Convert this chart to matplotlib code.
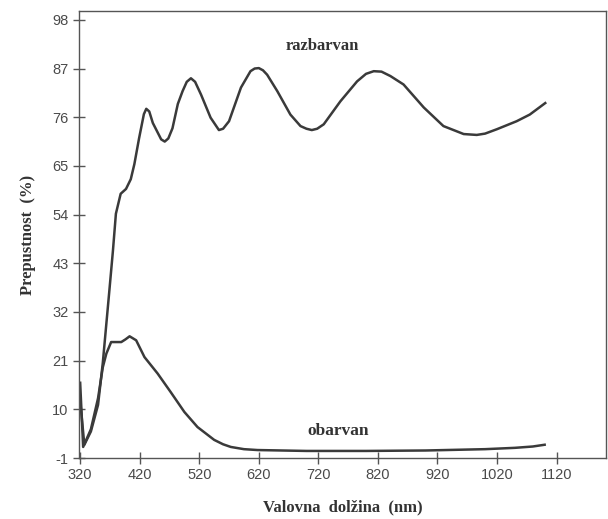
import matplotlib.pyplot as plt

plt.rcParams["axes.unicode_minus"] = False

# razbarvan (upper curve): wavelength (nm), transmittance (%)
razbarvan_nm = [320, 327, 338, 350, 358, 364, 369, 375, 380, 388, 397, 405,
                411, 419, 427, 431, 436, 442, 456, 462, 468, 475, 484, 492,
                499, 506, 513, 523, 539, 553, 560, 570, 590, 606, 613, 620,
                627, 634, 651, 673, 690, 700, 709, 718, 729, 757, 785, 800,
                813, 826, 841, 863, 897, 930, 964, 986, 1000, 1020, 1053,
                1075, 1101]
razbarvan_t = [12.0, 2.0, 5.0, 11.0, 20.5, 29.4, 36.8, 45.8, 54.2, 58.7,
               59.8, 62.0, 65.4, 71.3, 76.7, 77.9, 77.3, 74.7, 71.0, 70.5,
               71.2, 73.5, 79.0, 81.9, 84.0, 84.8, 84.0, 81.1, 75.9, 73.1,
               73.4, 75.1, 82.7, 86.4, 87.0, 87.1, 86.6, 85.6, 81.9, 76.6,
               74.0, 73.4, 73.1, 73.4, 74.4, 79.6, 84.1, 85.8, 86.4, 86.3,
               85.3, 83.4, 78.2, 74.0, 72.2, 72.0, 72.3, 73.3, 75.1, 76.6,
               79.2]

# obarvan (lower curve)
obarvan_nm = [320, 325, 338, 350, 358, 364, 372, 389, 396, 403, 414, 428,
              450, 472, 495, 517, 545, 560, 573, 595, 618, 700, 800, 900,
              1000, 1050, 1080, 1100]
obarvan_t = [16.0, 1.5, 5.5, 12.5, 19.5, 22.6, 25.2, 25.2, 25.8, 26.5, 25.6,
             21.8, 18.1, 13.9, 9.4, 6.0, 3.1, 2.1, 1.5, 1.0, 0.8, 0.6, 0.6,
             0.7, 1.0, 1.3, 1.6, 2.0]

x_ticks = [320, 420, 520, 620, 720, 820, 920, 1020, 1120]
y_ticks = [98, 87, 76, 65, 54, 43, 32, 21, 10, -1]

line_color = "#3a3a3a"
axis_color = "#555555"
serif = "Liberation Serif"

fig = plt.figure(figsize=(6.08, 5.19), dpi=100)
ax = fig.add_axes([0.1299, 0.1175, 0.8668, 0.8613])

ax.plot(razbarvan_nm, razbarvan_t, color=line_color, lw=1.8,
        solid_joinstyle="round")
ax.plot(obarvan_nm, obarvan_t, color=line_color, lw=1.8,
        solid_joinstyle="round")

ax.set_xlim(318, 1203)
ax.set_ylim(-1, 100)
ax.set_xticks(x_ticks)
ax.set_yticks(y_ticks)

for s in ax.spines.values():
    s.set_color(axis_color)
    s.set_linewidth(1.0)

ax.tick_params(direction="inout", length=8, width=1.0, colors=axis_color,
               labelcolor="#4a4a4a", labelsize=10.5)
for lab in ax.get_xticklabels() + ax.get_yticklabels():
    lab.set_family(["Liberation Sans Narrow", "Liberation Sans"])

ax.text(727, 92, "razbarvan", ha="center", va="center", family=serif,
        fontweight="bold", fontsize=12, color="#333333")
ax.text(754, 5.0, "obarvan", ha="center", va="center", family=serif,
        fontweight="bold", fontsize=12.5, color="#333333")

ax.set_xlabel("Valovna  dolžina  (nm)", family=serif, fontweight="bold",
              fontsize=12, color="#333333", labelpad=12)
ax.set_ylabel("Prepustnost  (%)", family=serif, fontweight="bold",
              fontsize=12, color="#333333", labelpad=12)

fig.savefig("out.png", dpi=100)
